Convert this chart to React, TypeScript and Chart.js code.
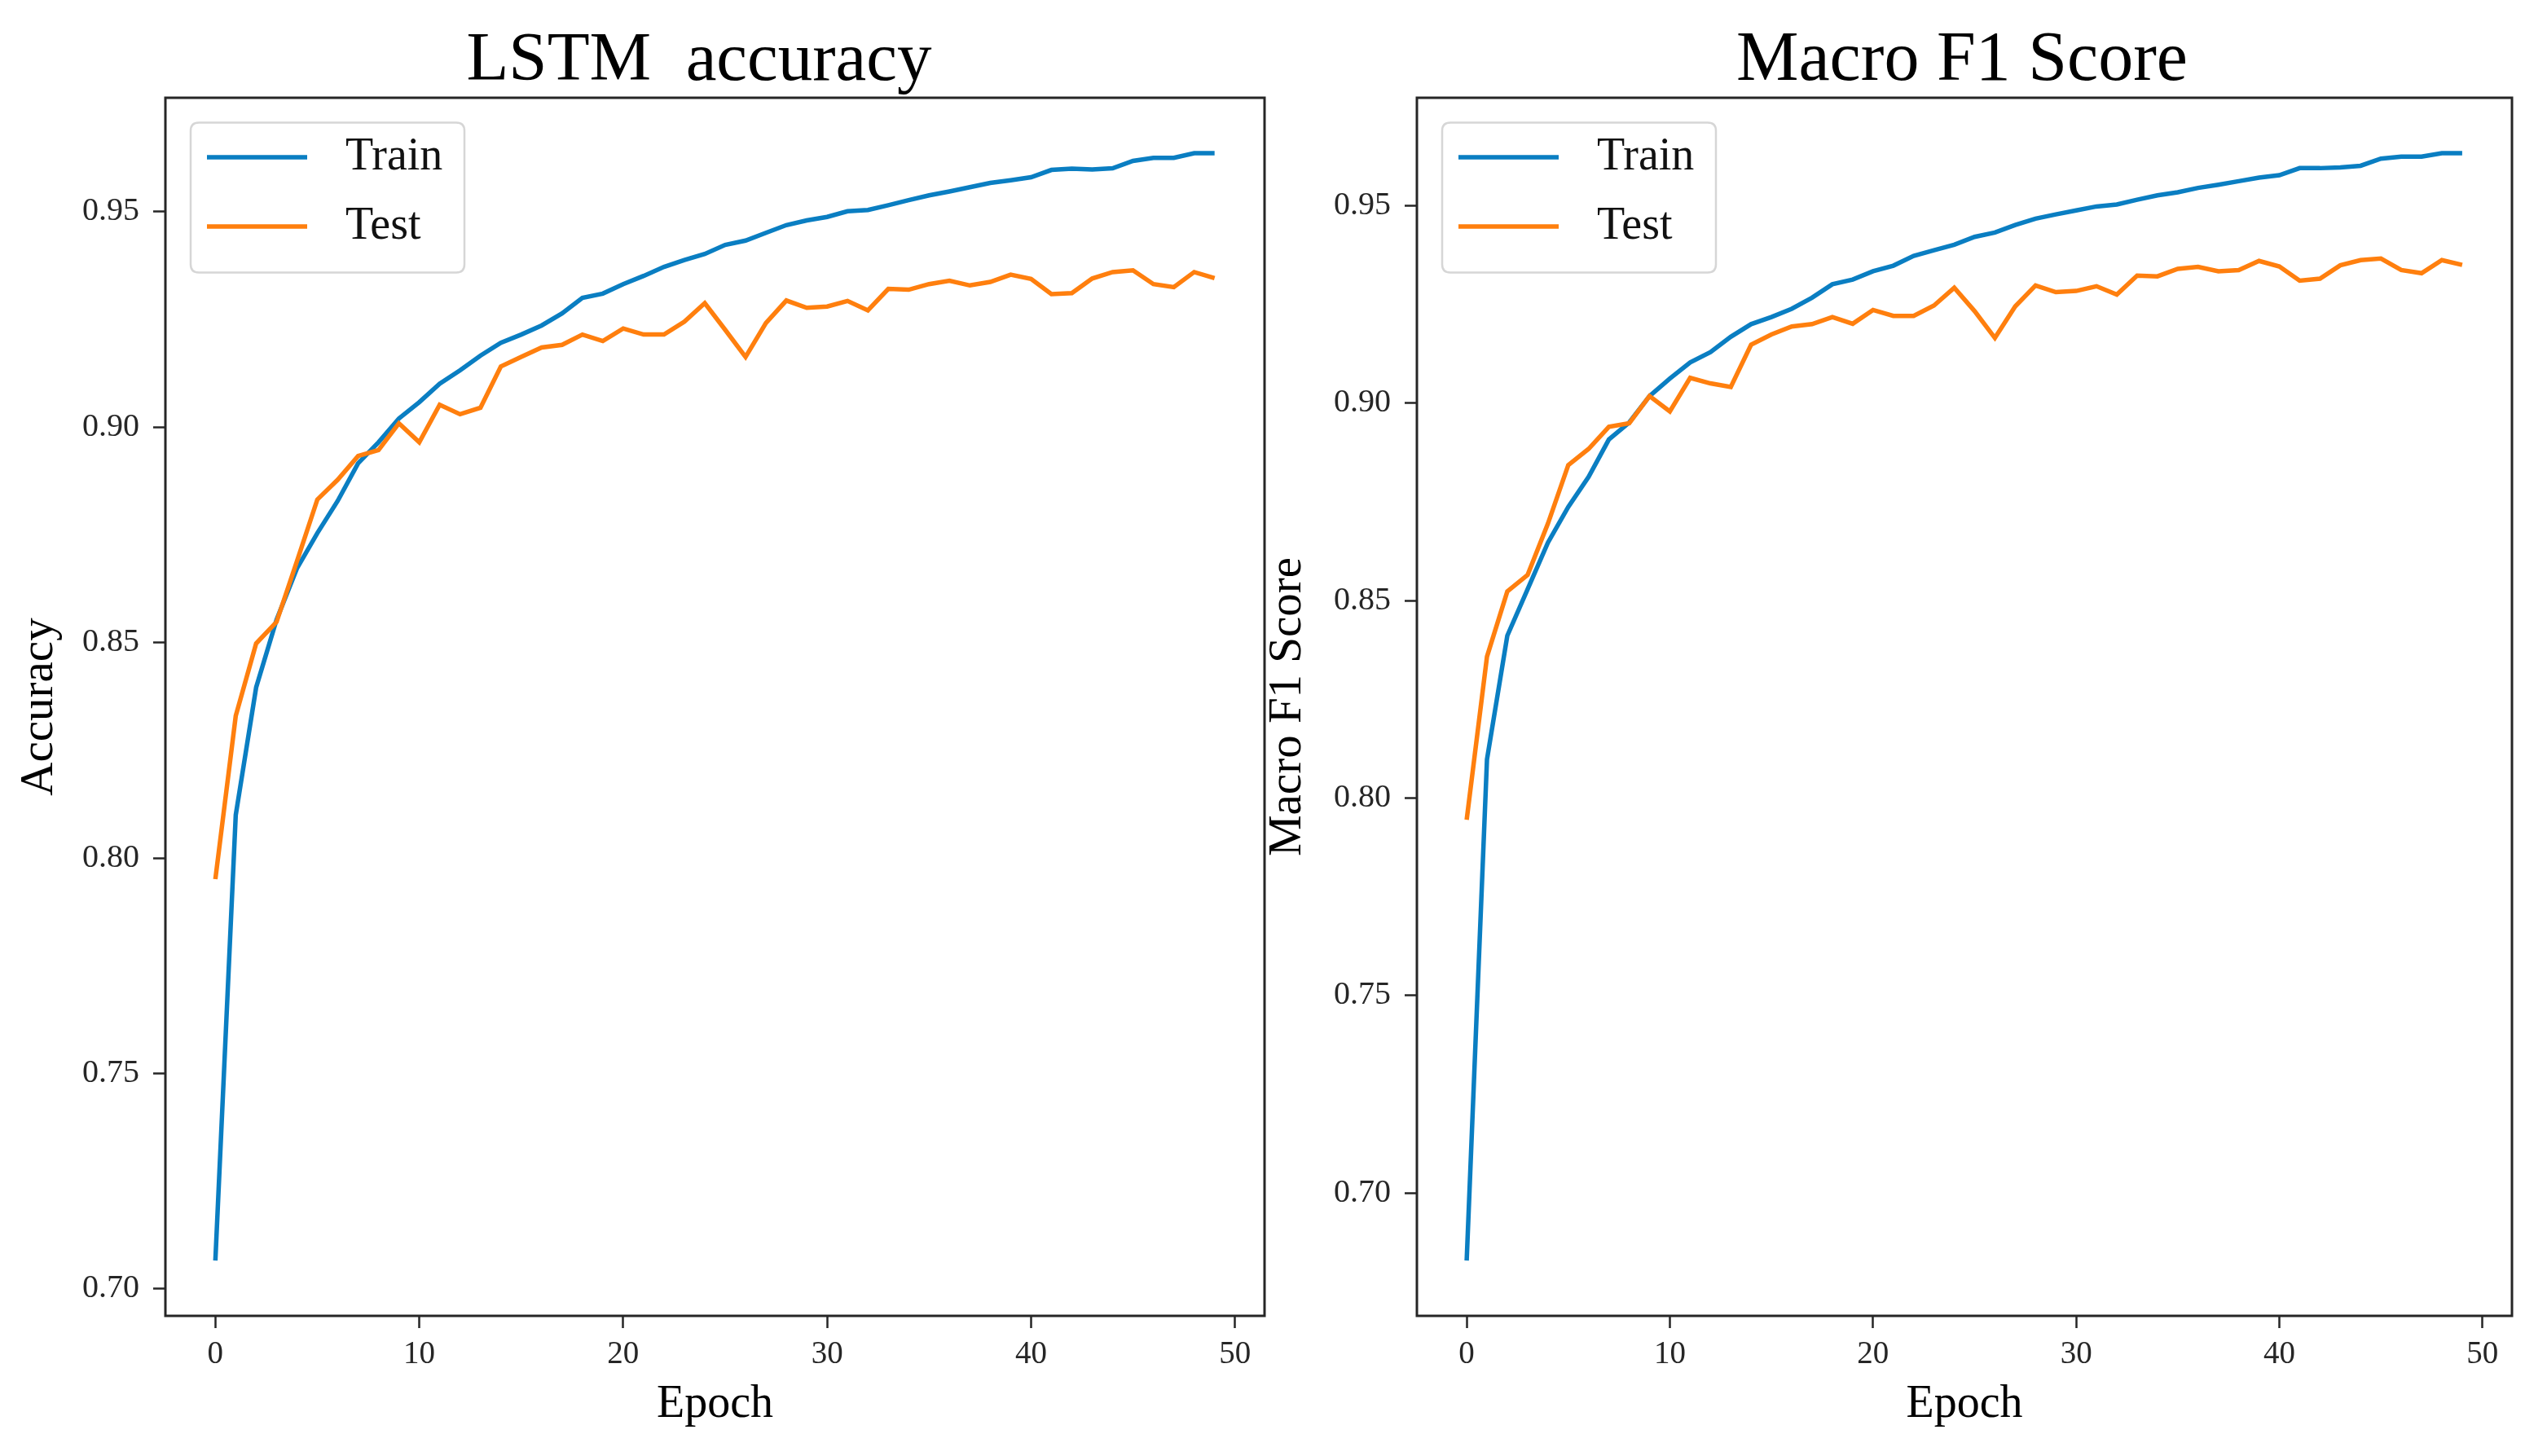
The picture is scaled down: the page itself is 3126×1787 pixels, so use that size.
import React, { useEffect, useRef } from "react";
import { Chart, registerables } from "chart.js";

Chart.register(...registerables);

const FONT = "'Liberation Serif', 'Times New Roman', Times, serif";

const EPOCHS = [
  0, 1, 2, 3, 4, 5, 6, 7, 8, 9, 10, 11, 12, 13, 14, 15, 16, 17, 18, 19, 20, 21, 22, 23, 24,
  25, 26, 27, 28, 29, 30, 31, 32, 33, 34, 35, 36, 37, 38, 39, 40, 41, 42, 43, 44, 45, 46, 47, 48, 49,
];

const ACC_TRAIN = [
  0.7066, 0.81, 0.8396, 0.8553, 0.8672, 0.8754, 0.8829, 0.8916, 0.8965, 0.902,
  0.9058, 0.9101, 0.9132, 0.9166, 0.9196, 0.9215, 0.9236, 0.9264, 0.93, 0.931,
  0.9332, 0.9351, 0.9372, 0.9388, 0.9402, 0.9423, 0.9433, 0.9451, 0.9469, 0.948,
  0.9488, 0.9501, 0.9504, 0.9515, 0.9527, 0.9538, 0.9547, 0.9557, 0.9567, 0.9573,
  0.958, 0.9597, 0.96, 0.9598, 0.9601, 0.9618, 0.9625, 0.9625, 0.9636, 0.9636,
];

const ACC_TEST = [
  0.7951, 0.833, 0.8498, 0.8548, 0.8689, 0.8832, 0.8878, 0.8933, 0.8947, 0.9009,
  0.8965, 0.9052, 0.903, 0.9045, 0.9141, 0.9163, 0.9185, 0.9191, 0.9215, 0.92,
  0.9229, 0.9215, 0.9215, 0.9245, 0.9288, 0.9226, 0.9163, 0.9242, 0.9294, 0.9277,
  0.928, 0.9293, 0.9271, 0.9321, 0.9319, 0.9332, 0.934, 0.9329, 0.9337, 0.9354,
  0.9344, 0.9309, 0.9311, 0.9345, 0.936, 0.9364, 0.9332, 0.9325, 0.936, 0.9346,
];

const F1_TRAIN = [
  0.6829, 0.8098, 0.8411, 0.8529, 0.8647, 0.8737, 0.8813, 0.8908, 0.8951, 0.9018,
  0.9062, 0.9103, 0.9129, 0.9168, 0.92, 0.9218, 0.9239, 0.9267, 0.9301, 0.9313,
  0.9334, 0.9348, 0.9373, 0.9387, 0.9401, 0.9421, 0.9432, 0.9451, 0.9467, 0.9478,
  0.9488, 0.9498, 0.9503, 0.9515, 0.9526, 0.9534, 0.9545, 0.9553, 0.9562, 0.9571,
  0.9577, 0.9595, 0.9595, 0.9597, 0.9601, 0.9619, 0.9624, 0.9624, 0.9633, 0.9633,
];

const F1_TEST = [
  0.7945, 0.8358, 0.8523, 0.8565, 0.8695, 0.8843, 0.8884, 0.894, 0.8949, 0.9018,
  0.8979, 0.9064, 0.905, 0.9041, 0.9148, 0.9174, 0.9194, 0.92, 0.9218, 0.9201,
  0.9236, 0.9221, 0.9221, 0.9247, 0.9292, 0.9233, 0.9165, 0.9245, 0.9298, 0.9281,
  0.9284, 0.9296, 0.9275, 0.9323, 0.9321, 0.934, 0.9345, 0.9334, 0.9337, 0.936,
  0.9346, 0.931, 0.9315, 0.9349, 0.9362, 0.9366, 0.9337, 0.9329, 0.9362, 0.935,
];

const X_TICKS = [0, 10, 20, 30, 40, 50];
const Y_TICKS = [0.7, 0.75, 0.8, 0.85, 0.9, 0.95];
const SERIES_LABELS = ["Train", "Test"];
const TRAIN_COLOR = "#0a7ec2";
const TEST_COLOR = "#ff7f0e";

function withMargin(values: number[]): [number, number] {
  const lo = Math.min(...values);
  const hi = Math.max(...values);
  const m = (hi - lo) * 0.05;
  return [lo - m, hi + m];
}

const decorPlugin = {
  id: "decor",
  afterDraw(chart: any, _args: any, opts: any) {
    const { ctx, chartArea: a } = chart;
    ctx.save();
    // legend box
    const bx = a.left + 31;
    const by = 150.5;
    const bw = 336;
    const bh = 184;
    const r = 10;
    ctx.beginPath();
    ctx.moveTo(bx + r, by);
    ctx.lineTo(bx + bw - r, by);
    ctx.quadraticCurveTo(bx + bw, by, bx + bw, by + r);
    ctx.lineTo(bx + bw, by + bh - r);
    ctx.quadraticCurveTo(bx + bw, by + bh, bx + bw - r, by + bh);
    ctx.lineTo(bx + r, by + bh);
    ctx.quadraticCurveTo(bx, by + bh, bx, by + bh - r);
    ctx.lineTo(bx, by + r);
    ctx.quadraticCurveTo(bx, by, bx + r, by);
    ctx.closePath();
    ctx.fillStyle = "rgba(255,255,255,0.85)";
    ctx.fill();
    ctx.strokeStyle = "#d6d6d6";
    ctx.lineWidth = 2.5;
    ctx.stroke();
    chart.data.datasets.forEach((ds: any, i: number) => {
      const ly = 193 + i * 85;
      ctx.strokeStyle = ds.borderColor;
      ctx.lineWidth = 5.5;
      ctx.beginPath();
      ctx.moveTo(bx + 20, ly);
      ctx.lineTo(bx + 143, ly);
      ctx.stroke();
      ctx.fillStyle = "#111";
      ctx.font = `56px ${FONT}`;
      ctx.textAlign = "left";
      ctx.textBaseline = "middle";
      ctx.fillText(ds.label, bx + 190, ly);
    });
    // frame
    ctx.strokeStyle = "#262626";
    ctx.lineWidth = 3;
    ctx.strokeRect(a.left, a.top, a.right - a.left, a.bottom - a.top);
    // title
    ctx.fillStyle = "#000";
    ctx.font = `${opts.size}px ${FONT}`;
    ctx.textAlign = "center";
    ctx.textBaseline = "alphabetic";
    ctx.fillText(opts.text, opts.x, opts.y);
    ctx.restore();
  },
};

type PanelProps = {
  title: string;
  titleSize: number;
  yLabel: string;
  train: number[];
  test: number[];
  left: number;
  width: number;
  yAxisWidth: number;
  padRight: number;
  titleX: number;
  yTitlePad: number;
};

function Panel(p: PanelProps) {
  const ref = useRef<HTMLCanvasElement>(null);
  useEffect(() => {
    const [ymin, ymax] = withMargin([...p.train, ...p.test]);
    const [xmin, xmax] = withMargin(EPOCHS);
    const tickGrid = {
      display: true,
      drawOnChartArea: false,
      drawTicks: true,
      tickLength: 15,
      tickWidth: 2.5,
      tickColor: "#262626",
    };
    const chart = new Chart(ref.current as HTMLCanvasElement, {
      type: "line",
      data: {
        datasets: [
          {
            label: SERIES_LABELS[0],
            data: EPOCHS.map((e, i) => ({ x: e, y: p.train[i] })),
            borderColor: TRAIN_COLOR,
            backgroundColor: TRAIN_COLOR,
            borderWidth: 5.5,
            pointRadius: 0,
            tension: 0,
            order: 1,
          },
          {
            label: SERIES_LABELS[1],
            data: EPOCHS.map((e, i) => ({ x: e, y: p.test[i] })),
            borderColor: TEST_COLOR,
            backgroundColor: TEST_COLOR,
            borderWidth: 5.5,
            pointRadius: 0,
            tension: 0,
            order: 0,
          },
        ],
      },
      options: {
        animation: false,
        responsive: false,
        devicePixelRatio: 1,
        layout: { padding: { top: 120, right: p.padRight, bottom: 0, left: 0 } },
        plugins: {
          legend: { display: false },
          tooltip: { enabled: false },
          title: { display: false },
          decor: { text: p.title, x: p.titleX, y: 98, size: p.titleSize },
        } as any,
        scales: {
          x: {
            type: "linear",
            min: xmin,
            max: xmax,
            afterBuildTicks: (s: any) => {
              s.ticks = X_TICKS.map((v) => ({ value: v }));
            },
            afterFit: (s: any) => {
              s.height = 172;
            },
            grid: tickGrid,
            border: { display: false },
            ticks: {
              autoSkip: false,
              maxRotation: 0,
              padding: 9,
              color: "#262626",
              font: { family: FONT, size: 39 },
              callback: (v: any) => String(v),
            },
            title: {
              display: true,
              text: "Epoch",
              color: "#000",
              font: { family: FONT, size: 56, lineHeight: 1 },
              padding: { top: 0, bottom: 35 },
            },
          },
          y: {
            type: "linear",
            min: ymin,
            max: ymax,
            afterBuildTicks: (s: any) => {
              s.ticks = Y_TICKS.map((v) => ({ value: v }));
            },
            afterFit: (s: any) => {
              s.width = p.yAxisWidth;
            },
            grid: tickGrid,
            border: { display: false },
            ticks: {
              autoSkip: false,
              padding: 17,
              color: "#262626",
              font: { family: FONT, size: 40 },
              callback: (v: any) => Number(v).toFixed(2),
            },
            title: {
              display: true,
              text: p.yLabel,
              color: "#000",
              font: { family: FONT, size: 57, lineHeight: 1 },
              padding: { top: p.yTitlePad, bottom: 0 },
            },
          },
        },
      },
      plugins: [decorPlugin as any],
    });
    return () => chart.destroy();
  }, []);
  return (
    <canvas
      ref={ref}
      width={p.width}
      height={1787}
      style={{ position: "absolute", left: p.left, top: 0, width: p.width, height: 1787 }}
    />
  );
}

export default function App() {
  useEffect(() => {
    document.body.style.margin = "0";
    document.body.style.overflow = "hidden";
    document.body.style.background = "#fff";
  }, []);
  return (
    <div style={{ position: "absolute", left: 0, top: 0, width: 3126, height: 1787, background: "#fff" }}>
      <Panel
        title="LSTM  accuracy"
        titleSize={85}
        yLabel="Accuracy"
        train={ACC_TRAIN}
        test={ACC_TEST}
        left={0}
        width={1560}
        yAxisWidth={203}
        padRight={8}
        titleX={858}
        yTitlePad={20.5}
      />
      <Panel
        title="Macro F1 Score"
        titleSize={86}
        yLabel="Macro F1 Score"
        train={F1_TRAIN}
        test={F1_TEST}
        left={1552}
        width={1574}
        yAxisWidth={187}
        padRight={43}
        titleX={856}
        yTitlePad={0.5}
      />
    </div>
  );
}
